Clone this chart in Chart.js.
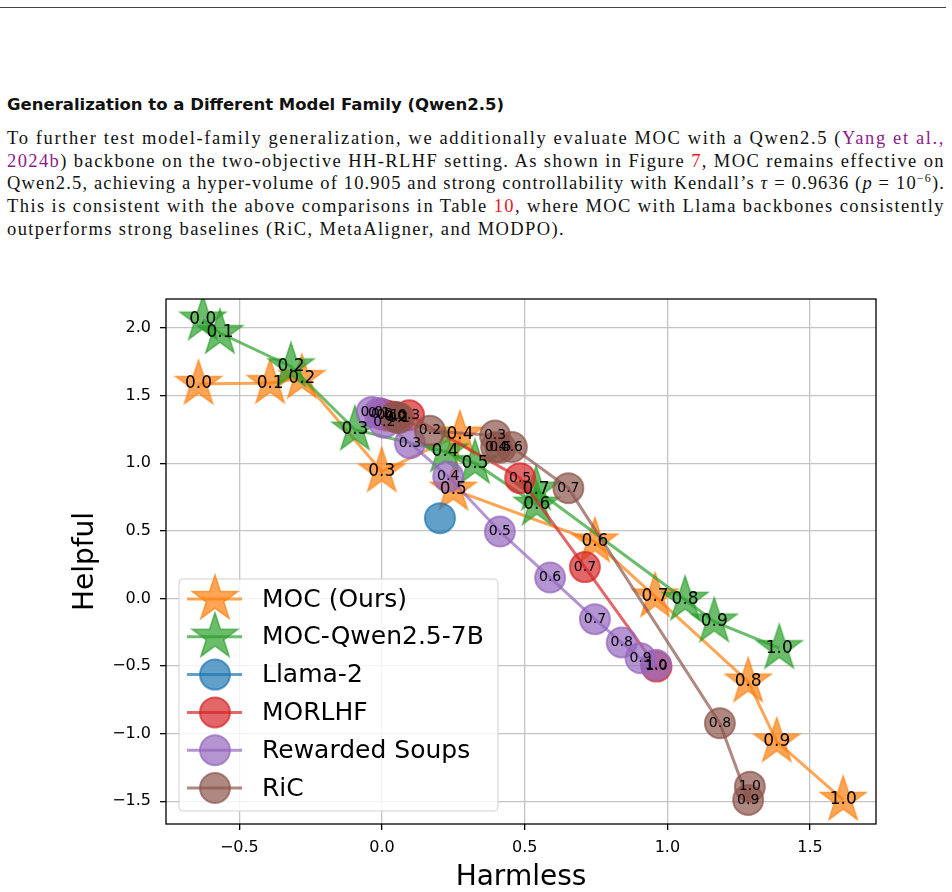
<!DOCTYPE html>
<html>
<head>
<meta charset="utf-8">
<script src="https://cdn.jsdelivr.net/npm/chart.js@4"></script>
<style>
  body { margin: 0; background: #fff; }
  #page { position: relative; width: 952px; height: 892px; overflow: hidden; }
  .rule { position: absolute; left: 0; top: 7px; width: 946px; height: 1px; background: #444; }
  h3 { position: absolute; left: 7px; top: 95px; margin: 0; font: bold 16.5px "DejaVu Sans"; color: #111; }
  #para { position: absolute; left: 7px; top: 127px; width: 938px; font: 18.5px "Liberation Serif"; line-height: 22.7px; color: #111; }
  #para div { white-space: nowrap; height: 22.7px; }
  sup { font-size: 12px; line-height: 0; vertical-align: 0; position: relative; top: -0.6em; }
  .cite { color: #8b1c8b; }
  .ref { color: #e8141c; }
  #wrap { position: absolute; left: 0; top: 280px; width: 952px; height: 612px; }
</style>
</head>
<body>
<div id="page">
  <div class="rule"></div>
  <h3>Generalization to a Different Model Family (Qwen2.5)</h3>
  <div id="para">
    <div><span>To further test model-family generalization, we additionally evaluate MOC with a Qwen2.5 (<span class="cite">Yang et al.,</span></span></div>
    <div><span><span class="cite">2024b</span>) backbone on the two-objective HH-RLHF setting. As shown in Figure <span class="ref">7</span>, MOC remains effective on</span></div>
    <div><span>Qwen2.5, achieving a hyper-volume of 10.905 and strong controllability with Kendall’s <i>τ</i> = 0.9636 (<i>p</i> = 10<sup>−6</sup>).</span></div>
    <div><span>This is consistent with the above comparisons in Table <span class="ref">10</span>, where MOC with Llama backbones consistently</span></div>
    <div><span>outperforms strong baselines (RiC, MetaAligner, and MODPO).</span></div>
  </div>
  <div id="wrap"><canvas id="myChart" width="952" height="612"></canvas></div>
</div>
<script>
// axis ticks
const xTicks = [-0.5, 0.0, 0.5, 1.0, 1.5];
const yTicks = [-1.5, -1.0, -0.5, 0.0, 0.5, 1.0, 1.5, 2.0];

// MOC (Ours)
const mocW = ['0.0', '0.1', '0.2', '0.3', '0.4', '0.5', '0.6', '0.7', '0.8', '0.9', '1.0'];
const mocX = [-0.643, -0.392, -0.281, -0.001, 0.273, 0.250, 0.746, 0.957, 1.283, 1.383, 1.616];
const mocY = [1.586, 1.593, 1.630, 0.939, 1.211, 0.804, 0.421, 0.014, -0.615, -1.059, -1.490];

// MOC-Qwen2.5-7B
const qwenW = ['0.0', '0.1', '0.2', '0.3', '0.4', '0.5', '0.6', '0.7', '0.8', '0.9', '1.0'];
const qwenX = [-0.628, -0.568, -0.319, -0.095, 0.221, 0.326, 0.542, 0.540, 1.062, 1.164, 1.392];
const qwenY = [2.062, 1.963, 1.716, 1.248, 1.087, 1.001, 0.693, 0.804, -0.010, -0.171, -0.368];

// Llama-2
const llamaX = [0.203];
const llamaY = [0.594];

// MORLHF
const morlhfW = ['0.0', '0.1', '0.2', '0.3', '0.5', '0.7', '1.0'];
const morlhfX = [0.000, 0.020, 0.050, 0.095, 0.484, 0.711, 0.962];
const morlhfY = [1.362, 1.352, 1.340, 1.355, 0.890, 0.232, -0.504];

// Rewarded Soups
const rsW = ['0.0', '0.1', '0.2', '0.3', '0.4', '0.5', '0.6', '0.7', '0.8', '0.9', '1.0'];
const rsX = [-0.036, -0.010, 0.008, 0.098, 0.232, 0.413, 0.589, 0.746, 0.840, 0.906, 0.960];
const rsY = [1.380, 1.372, 1.300, 1.149, 0.902, 0.495, 0.155, -0.153, -0.326, -0.442, -0.491];

// RiC
const ricW = ['0.0', '0.1', '0.2', '0.3', '0.4', '0.5', '0.6', '0.7', '0.8', '0.9', '1.0'];
const ricX = [0.045, 0.060, 0.168, 0.396, 0.400, 0.415, 0.455, 0.653, 1.184, 1.283, 1.289];
const ricY = [1.345, 1.335, 1.240, 1.205, 1.120, 1.115, 1.120, 0.816, -0.923, -1.490, -1.392];

// spread each paragraph line to the full text width, like the typeset page
(function () {
  const lines = document.querySelectorAll('#para > div > span');
  const full = 938;
  let sum = 0, n = 0;
  lines.forEach((s, i) => {
    const chars = s.textContent.length;
    const ls = (full - s.getBoundingClientRect().width) / chars;
    if (i < lines.length - 1) { s.style.letterSpacing = ls + 'px'; sum += ls; n++; }
  });
  lines[lines.length - 1].style.letterSpacing = (sum / n) + 'px';
})();

const toPts = (xs, ys) => xs.map((x, i) => ({ x: x, y: ys[i] }));

function starImage(rgb, R) {
  const c = document.createElement('canvas');
  const s = Math.ceil(2 * R + 4);
  c.width = s; c.height = s;
  const g = c.getContext('2d');
  g.translate(s / 2, s / 2);
  g.beginPath();
  for (let k = 0; k < 10; k++) {
    const r = k % 2 ? R * 0.382 : R;
    const a = -Math.PI / 2 + k * Math.PI / 5;
    g.lineTo(r * Math.cos(a), r * Math.sin(a));
  }
  g.closePath();
  g.fillStyle = 'rgba(' + rgb + ',0.7)';
  g.fill();
  g.strokeStyle = 'rgba(' + rgb + ',0.7)';
  g.lineWidth = 1.5;
  g.stroke();
  return c;
}

const ORANGE = '255,127,14', GREEN = '44,160,44', BLUE = '31,119,180',
      RED = '214,39,40', PURPLE = '148,103,189', BROWN = '140,86,75';
const starO = starImage(ORANGE, 24), starG = starImage(GREEN, 24);

function starSet(label, pts, w, rgb, img, order) {
  return {
    label: label, data: pts, weights: w, labelFont: '17px "DejaVu Sans"',
    showLine: true, borderColor: 'rgba(' + rgb + ',0.7)', borderWidth: 3,
    pointStyle: img, pointRadius: 24, order: order, rgb: rgb, kind: 'star', img: img
  };
}
function dotSet(label, pts, w, rgb, order) {
  return {
    label: label, data: pts, weights: w, labelFont: '14px "DejaVu Sans"',
    showLine: true, borderColor: 'rgba(' + rgb + ',0.7)', borderWidth: 3,
    pointStyle: 'circle', pointRadius: 15, pointBorderWidth: 2,
    pointBackgroundColor: 'rgba(' + rgb + ',0.7)', pointBorderColor: 'rgba(' + rgb + ',0.7)',
    order: order, rgb: rgb, kind: 'dot'
  };
}

const datasets = [
  starSet('MOC (Ours)', toPts(mocX, mocY), mocW, ORANGE, starO, 6),
  starSet('MOC-Qwen2.5-7B', toPts(qwenX, qwenY), qwenW, GREEN, starG, 5),
  dotSet('Llama-2', toPts(llamaX, llamaY), null, BLUE, 4),
  dotSet('MORLHF', toPts(morlhfX, morlhfY), morlhfW, RED, 3),
  dotSet('Rewarded Soups', toPts(rsX, rsY), rsW, PURPLE, 2),
  dotSet('RiC', toPts(ricX, ricY), ricW, BROWN, 1)
];

const fmt = v => v.toFixed(1).replace('-', '\u2212');

// frame + weight labels on top of the data
const pointLabels = {
  id: 'pointLabels',
  afterDatasetsDraw(chart) {
    const ctx = chart.ctx, a = chart.chartArea;
    ctx.save();
    ctx.strokeStyle = '#000';
    ctx.lineWidth = 1.3;
    ctx.strokeRect(a.left, a.top, a.right - a.left, a.bottom - a.top);
    ctx.fillStyle = '#000';
    ctx.textAlign = 'center';
    ctx.textBaseline = 'middle';
    chart.data.datasets.forEach((ds, i) => {
      if (!ds.weights) return;
      ctx.font = ds.labelFont;
      chart.getDatasetMeta(i).data.forEach((pt, j) => ctx.fillText(ds.weights[j], pt.x, pt.y));
    });
    ctx.restore();
  }
};

// legend box in the lower left corner of the axes
const boxLegend = {
  id: 'boxLegend',
  afterDraw(chart) {
    const ctx = chart.ctx, a = chart.chartArea;
    const L = a.left + 13, W = 319, H = 232, T = a.bottom - 13 - H;
    ctx.save();
    ctx.beginPath();
    ctx.roundRect(L, T, W, H, 4);
    ctx.fillStyle = 'rgba(255,255,255,0.8)';
    ctx.fill();
    ctx.strokeStyle = '#d0d0d0';
    ctx.lineWidth = 1;
    ctx.stroke();
    chart.data.datasets.forEach((ds, i) => {
      const cy = T + 20 + i * 37.8;
      ctx.strokeStyle = 'rgba(' + ds.rgb + ',0.7)';
      ctx.lineWidth = 3;
      ctx.beginPath();
      ctx.moveTo(L + 8, cy); ctx.lineTo(L + 63, cy);
      ctx.stroke();
      if (ds.kind === 'star') {
        ctx.drawImage(ds.img, L + 36 - ds.img.width / 2, cy - ds.img.height / 2);
      } else {
        ctx.beginPath();
        ctx.arc(L + 36, cy, 15, 0, Math.PI * 2);
        ctx.fillStyle = 'rgba(' + ds.rgb + ',0.7)';
        ctx.fill();
        ctx.lineWidth = 2;
        ctx.stroke();
      }
      ctx.fillStyle = '#000';
      ctx.font = '25px "DejaVu Sans"';
      ctx.textAlign = 'left';
      ctx.textBaseline = 'middle';
      ctx.fillText(ds.label, L + 83, cy + 1);
    });
    ctx.restore();
  }
};

new Chart(document.getElementById('myChart'), {
  type: 'scatter',
  data: { datasets: datasets },
  options: {
    responsive: false,
    animation: false,
    events: [],
    layout: { autoPadding: false, padding: { top: 19, right: 76, left: 0, bottom: 0 } },
    plugins: { legend: { display: false }, tooltip: { enabled: false } },
    scales: {
      x: {
        min: -0.757, max: 1.731,
        afterBuildTicks: s => { s.ticks = xTicks.map(v => ({ value: v })); },
        afterFit: s => { s.height = 68; },
        grid: { color: '#c4c4c4', lineWidth: 1.3, tickColor: '#000', tickLength: 6 },
        border: { display: false },
        ticks: { color: '#000', font: { family: 'DejaVu Sans', size: 16 }, padding: 8, maxRotation: 0,
                 callback: v => fmt(v) },
        title: { display: true, text: 'Harmless', color: '#000',
                 font: { family: 'DejaVu Sans', size: 28, lineHeight: 1 }, padding: { top: 0, bottom: 0 } }
      },
      y: {
        min: -1.668, max: 2.215,
        afterBuildTicks: s => { s.ticks = yTicks.map(v => ({ value: v })); },
        afterFit: s => { s.width = 166; },
        grid: { color: '#c4c4c4', lineWidth: 1.3, tickColor: '#000', tickLength: 6 },
        border: { display: false },
        ticks: { color: '#000', font: { family: 'DejaVu Sans', size: 16 }, padding: 9,
                 callback: v => fmt(v) },
        title: { display: true, text: 'Helpful', color: '#000',
                 font: { family: 'DejaVu Sans', size: 28 }, padding: { top: 69, bottom: 0 } }
      }
    }
  },
  plugins: [pointLabels, boxLegend]
});
</script>
</body>
</html>
